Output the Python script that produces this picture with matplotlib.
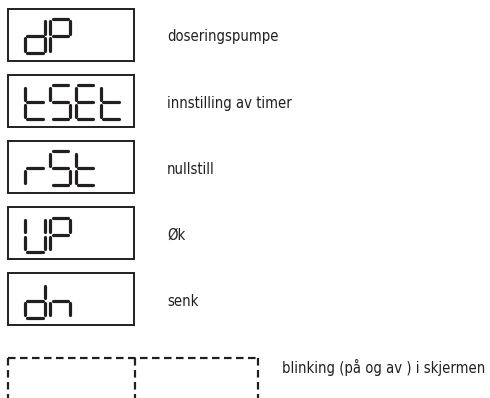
import matplotlib
matplotlib.use("Agg")
import matplotlib.pyplot as plt
from matplotlib.patches import Rectangle

# display codes and their meaning
codes = ["dP", "tSEt", "rSt", "UP", "dn"]
labels = ["doseringspumpe", "innstilling av timer", "nullstill", "Øk", "senk"]
blink_label = "blinking (på og av ) i skjermen"

# seven segment map
seg_map = {
    "d": "bcdeg",
    "P": "abefg",
    "t": "defg",
    "S": "acdfg",
    "E": "adefg",
    "r": "eg",
    "U": "bcdef",
    "n": "ceg",
}

ink = "#231f20"
W, H = 490, 398
font = dict(family="DejaVu Sans", fontstretch="condensed", fontsize=10.6,
            color=ink, va="center", ha="left")

fig = plt.figure(figsize=(W / 100, H / 100), dpi=100)
ax = fig.add_axes([0, 0, 1, 1])
ax.set_xlim(0, W)
ax.set_ylim(H, 0)
ax.axis("off")


def draw_digit(ch, x0, y0, w=20, h=34, gap=2.4):
    segs = {
        "a": ((x0 + gap, y0), (x0 + w - gap, y0)),
        "b": ((x0 + w, y0 + gap), (x0 + w, y0 + h / 2 - gap)),
        "c": ((x0 + w, y0 + h / 2 + gap), (x0 + w, y0 + h - gap)),
        "d": ((x0 + gap, y0 + h), (x0 + w - gap, y0 + h)),
        "e": ((x0, y0 + h / 2 + gap), (x0, y0 + h - gap)),
        "f": ((x0, y0 + gap), (x0, y0 + h / 2 - gap)),
        "g": ((x0 + gap, y0 + h / 2), (x0 + w - gap, y0 + h / 2)),
    }
    for s in seg_map[ch]:
        (xa, ya), (xb, yb) = segs[s]
        ax.plot([xa, xb], [ya, yb], color=ink, lw=2.3, solid_capstyle="round")


box_x, box_w, box_h = 7.5, 126.5, 52
row_top0, row_step = 8.5, 66.2

for i, (code, lab) in enumerate(zip(codes, labels)):
    top = row_top0 + i * row_step
    ax.add_patch(Rectangle((box_x, top), box_w, box_h, fill=False,
                           ec=ink, lw=1.4))
    for j, ch in enumerate(code):
        draw_digit(ch, 25 + j * 25.3, top + 10.5)
    ax.text(167, top + box_h / 2 + 2.5, lab, **font)

# dashed blinking box (cut off at the bottom)
dash = dict(color=ink, lw=1.6, ls=(0, (3.4, 2.0)))
top = 358
ax.plot([8, 258], [top, top], **dash)
for xv in [8, 135, 258]:
    ax.plot([xv, xv], [top, H + 5], **dash)
ax.text(282, 367, blink_label, **font)

fig.savefig("out.png", dpi=100)
